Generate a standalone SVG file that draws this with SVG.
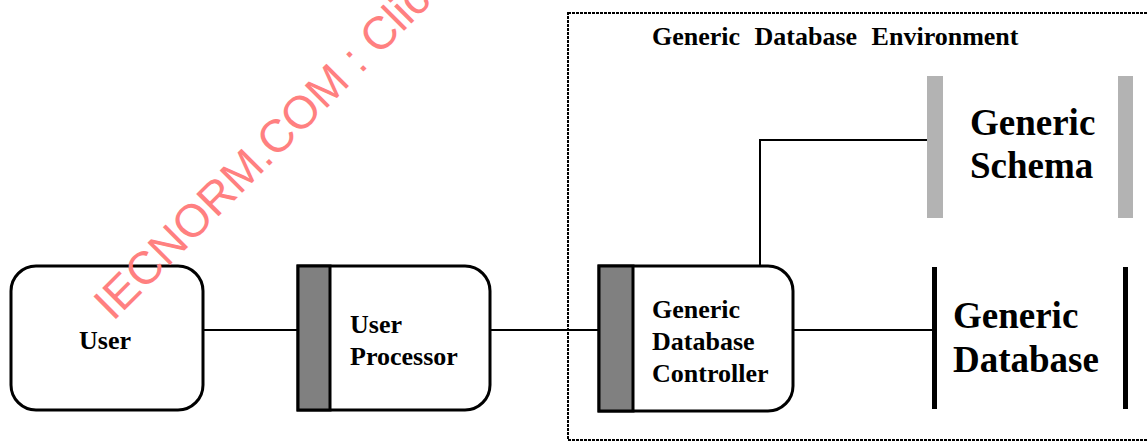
<svg xmlns="http://www.w3.org/2000/svg" width="1148" height="441" viewBox="0 0 1148 441">
<style>
.box{fill:#fff;stroke:#000;stroke-width:3}
.bar{fill:#808080;stroke:#000;stroke-width:3}
.conn{fill:none;stroke:#000;stroke-width:2}
.t{font-family:"Liberation Serif","Times New Roman",serif;font-weight:bold;fill:#000}
.m{font-size:26px}
.l{font-size:37px}
.schemabar{fill:#b3b3b3}
.dbbar{fill:#000}
</style>
<rect width="1148" height="441" fill="#fff"/>
<g id="environment">
<rect x="568" y="13" width="600" height="427" fill="none" stroke="#000" stroke-width="2" stroke-dasharray="3 1"/>
<text class="t" x="652" y="45" font-size="26" word-spacing="8">Generic  Database  Environment</text>
</g>
<g id="connectors">
<line class="conn" x1="203" y1="330" x2="298" y2="330"/>
<line class="conn" x1="490" y1="330" x2="598" y2="330"/>
<line class="conn" x1="793" y1="330" x2="933" y2="330"/>
<polyline class="conn" points="760,265 760,140 935,140"/>
</g>
<g id="user">
<rect class="box" x="11" y="266" width="192" height="144" rx="25" ry="25"/>
<text class="t m" x="105" y="349" text-anchor="middle">User</text>
</g>
<g id="user-processor">
<path class="box" d="M298,266 H465 A25,25 0 0 1 490,291 V385 A25,25 0 0 1 465,410 H298 Z"/>
<rect class="bar" x="298" y="266" width="32" height="144"/>
<text class="t m" x="350" y="333">User</text>
<text class="t m" x="350" y="365">Processor</text>
</g>
<g id="controller">
<path class="box" d="M599,266 H768 A25,25 0 0 1 793,291 V386 A25,25 0 0 1 768,411 H599 Z"/>
<rect class="bar" x="599" y="266" width="34" height="145"/>
<text class="t m" x="652" y="318">Generic</text>
<text class="t m" x="652" y="350">Database</text>
<text class="t m" x="652" y="382">Controller</text>
</g>
<g id="schema">
<rect class="schemabar" x="927" y="76" width="16" height="142"/>
<rect class="schemabar" x="1118" y="76" width="15" height="142"/>
<text class="t l" x="970" y="135">Generic</text>
<text class="t l" x="970" y="178">Schema</text>
</g>
<g id="database">
<rect class="dbbar" x="932" y="267" width="5" height="142"/>
<rect class="dbbar" x="1123" y="267" width="5" height="142"/>
<text class="t l" x="953" y="328">Generic</text>
<text class="t l" x="953" y="372">Database</text>
</g>
<g id="watermark">
<text x="113" y="322" transform="rotate(-45 113 322)" font-family="'Liberation Sans',Arial,sans-serif" font-size="46" fill="#ff8080">IECNORM.COM : Click</text>
</g>
</svg>
